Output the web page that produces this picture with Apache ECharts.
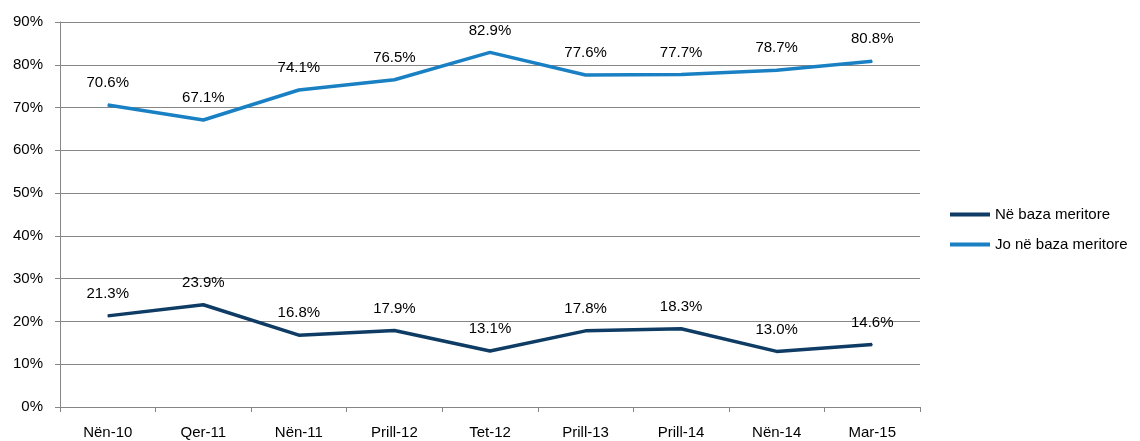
<!DOCTYPE html>
<html><head><meta charset="utf-8">
<script src="https://cdn.jsdelivr.net/npm/echarts@6/dist/echarts.min.js"></script>
<style>html,body{margin:0;padding:0;background:#fff}#c{width:1140px;height:441px}</style>
</head><body><div id="c"></div>
<script>
const categories = ['Nën-10','Qer-11','Nën-11','Prill-12','Tet-12','Prill-13','Prill-14','Nën-14','Mar-15'];
const meritore = [21.3, 23.9, 16.8, 17.9, 13.1, 17.8, 18.3, 13.0, 14.6];
const joMeritore = [70.6, 67.1, 74.1, 76.5, 82.9, 77.6, 77.7, 78.7, 80.8];
const seriesNames = ['Në baza meritore', 'Jo në baza meritore'];
const font = 'Liberation Sans, Open Sans, sans-serif';
const chart = echarts.init(document.getElementById('c'));
const lbl = {show:true, position:'top', distance:14, color:'#000', fontSize:15, fontFamily:font, formatter:p=>p.value.toFixed(1)+'%'};
chart.setOption({
  animation:false,
  grid:{left:60, right:220, top:22, bottom:34},
  legend:{orient:'vertical', left:945, top:202, itemWidth:40, itemHeight:4, itemGap:15,
    icon:'rect', textStyle:{fontSize:15, fontFamily:font, color:'#000'}, data:seriesNames},
  xAxis:{type:'category', data:categories, boundaryGap:true,
    axisLine:{lineStyle:{color:'#868686', width:1}},
    axisTick:{show:true, length:5, lineStyle:{color:'#868686'}},
    axisLabel:{color:'#000', fontSize:15, fontFamily:font, margin:18}},
  yAxis:{type:'value', min:0, max:90, interval:10,
    axisLine:{show:true, lineStyle:{color:'#868686'}},
    axisTick:{show:true, length:5, lineStyle:{color:'#868686'}},
    splitLine:{lineStyle:{color:'#868686', width:1}},
    axisLabel:{color:'#000', fontSize:15, fontFamily:font, margin:17, formatter:'{value}%'}},
  series:[
    {name:seriesNames[0], type:'line', data:meritore, symbol:'circle', symbolSize:1, showSymbol:true, lineStyle:{color:'#0E3C64', width:3.5}, itemStyle:{color:'#0E3C64'}, label:lbl},
    {name:seriesNames[1], type:'line', data:joMeritore, symbol:'circle', symbolSize:1, showSymbol:true, lineStyle:{color:'#1A80C4', width:3.5}, itemStyle:{color:'#1A80C4'}, label:lbl}
  ]
});
</script></body></html>
